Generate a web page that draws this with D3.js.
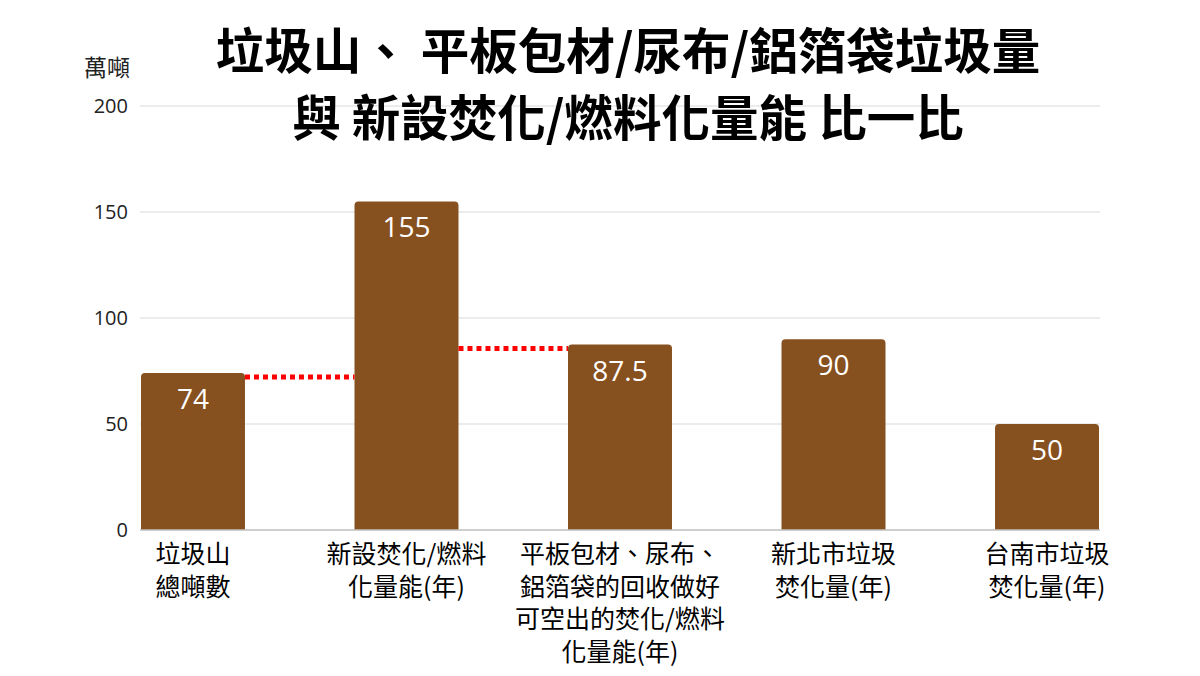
<!DOCTYPE html>
<html>
<head>
<meta charset="utf-8">
<script src="https://cdn.jsdelivr.net/npm/d3@7"></script>
<style>
  body { margin: 0; background: #fff; }
  svg { font-family: "Noto Sans CJK TC", "Noto Sans", sans-serif; }
</style>
</head>
<body>
<svg id="chart" width="1200" height="676"></svg>
<script>
// Chart data
const categories = ["垃圾山總噸數", "新設焚化/燃料化量能(年)", "平板包材、尿布、鋁箔袋的回收做好可空出的焚化/燃料化量能(年)", "新北市垃圾焚化量(年)", "台南市垃圾焚化量(年)"];
const categoryLines = [
    ["垃圾山", "總噸數"],
    ["新設焚化/燃料", "化量能(年)"],
    ["平板包材、尿布、", "鋁箔袋的回收做好", "可空出的焚化/燃料", "化量能(年)"],
    ["新北市垃圾", "焚化量(年)"],
    ["台南市垃圾", "焚化量(年)"]
];
const values = [74, 155, 87.5, 90, 50];
const valueLabels = ["74", "155", "87.5", "90", "50"];
const yTicks = [0, 50, 100, 150, 200];
const titleLines = ["垃圾山、 平板包材/尿布/鋁箔袋垃圾量", "與 新設焚化/燃料化量能 比一比"];
const unitLabel = "萬噸";
// dotted connectors: from bar index to bar index, at the lower bar's value
const connectors = [[0, 1], [1, 2]];

const svg = d3.select("#chart");
const plotLeft = 141, plotRight = 1099, plotTop = 106, plotBottom = 530;

const x = d3.scaleBand()
    .domain(categories)
    .range([plotLeft, plotRight])
    .paddingInner(0.513)
    .paddingOuter(0);

const y = d3.scaleLinear()
    .domain([0, 200])
    .range([plotBottom, plotTop]);

// Gridlines
svg.append("g")
    .selectAll("line")
    .data(yTicks.filter(d => d > 0))
    .join("line")
    .attr("x1", plotLeft - 1)
    .attr("x2", plotRight + 1)
    .attr("y1", d => y(d))
    .attr("y2", d => y(d))
    .attr("stroke", "#d9d9d9")
    .attr("stroke-width", 1);

// Y tick labels
svg.append("g")
    .selectAll("text")
    .data(yTicks)
    .join("text")
    .attr("x", 128)
    .attr("y", d => y(d))
    .attr("dy", "0.35em")
    .attr("text-anchor", "end")
    .attr("font-size", 20)
    .attr("font-family", "'Open Sans', 'Noto Sans', sans-serif")
    .attr("fill", "#222")
    .text(d => d);

svg.append("text")
    .attr("x", 107)
    .attr("y", 76)
    .attr("text-anchor", "middle")
    .attr("font-size", 23)
    .attr("fill", "#222")
    .text(unitLabel);

// Bars with rounded tops
const r = 4;
svg.append("g")
    .selectAll("path")
    .data(values)
    .join("path")
    .attr("fill", "#87501f")
    .attr("d", (d, i) => {
        const x0 = x(categories[i]), w = x.bandwidth();
        const y0 = y(d), y1 = y(0);
        return `M${x0},${y1} V${y0 + r} Q${x0},${y0} ${x0 + r},${y0} H${x0 + w - r} Q${x0 + w},${y0} ${x0 + w},${y0 + r} V${y1} Z`;
    });

// Baseline
svg.append("line")
    .attr("x1", plotLeft - 1)
    .attr("x2", plotRight + 1)
    .attr("y1", y(0))
    .attr("y2", y(0))
    .attr("stroke", "#bfbfbf")
    .attr("stroke-width", 1.5);

// Value labels
svg.append("g")
    .selectAll("text")
    .data(values)
    .join("text")
    .attr("x", (d, i) => x(categories[i]) + x.bandwidth() / 2)
    .attr("y", d => y(d) + 36)
    .attr("text-anchor", "middle")
    .attr("font-size", 28)
    .attr("font-family", "'Open Sans', 'Noto Sans', sans-serif")
    .attr("fill", "#fff")
    .text((d, i) => valueLabels[i]);

// Dotted red connectors
svg.append("g")
    .selectAll("line")
    .data(connectors)
    .join("line")
    .attr("x1", d => x(categories[d[0]]) + x.bandwidth())
    .attr("x2", d => x(categories[d[1]]))
    .attr("y1", d => y(Math.min(values[d[0]], values[d[1]])) + 4)
    .attr("y2", d => y(Math.min(values[d[0]], values[d[1]])) + 4)
    .attr("stroke", "#ff0000")
    .attr("stroke-width", 5)
    .attr("stroke-dasharray", "5,4");

// Category labels
const catG = svg.append("g")
    .selectAll("text")
    .data(categoryLines)
    .join("text")
    .attr("x", (d, i) => x(categories[i]) + x.bandwidth() / 2)
    .attr("y", 563)
    .attr("text-anchor", "middle")
    .attr("font-size", 25)
    .attr("fill", "#000");

catG.each(function(lines, i) {
    const t = d3.select(this);
    const cx = x(categories[i]) + x.bandwidth() / 2;
    lines.forEach((ln, k) => {
        t.append("tspan")
            .attr("x", cx)
            .attr("dy", k === 0 ? 0 : 32.5)
            .text(ln);
    });
});

// Title
svg.append("g")
    .selectAll("text")
    .data(titleLines)
    .join("text")
    .attr("x", 628)
    .attr("y", (d, i) => 69 + i * 67)
    .attr("text-anchor", "middle")
    .attr("font-size", 48.5)
    .attr("font-weight", "bold")
    .attr("fill", "#000")
    .text(d => d);
</script>
</body>
</html>
